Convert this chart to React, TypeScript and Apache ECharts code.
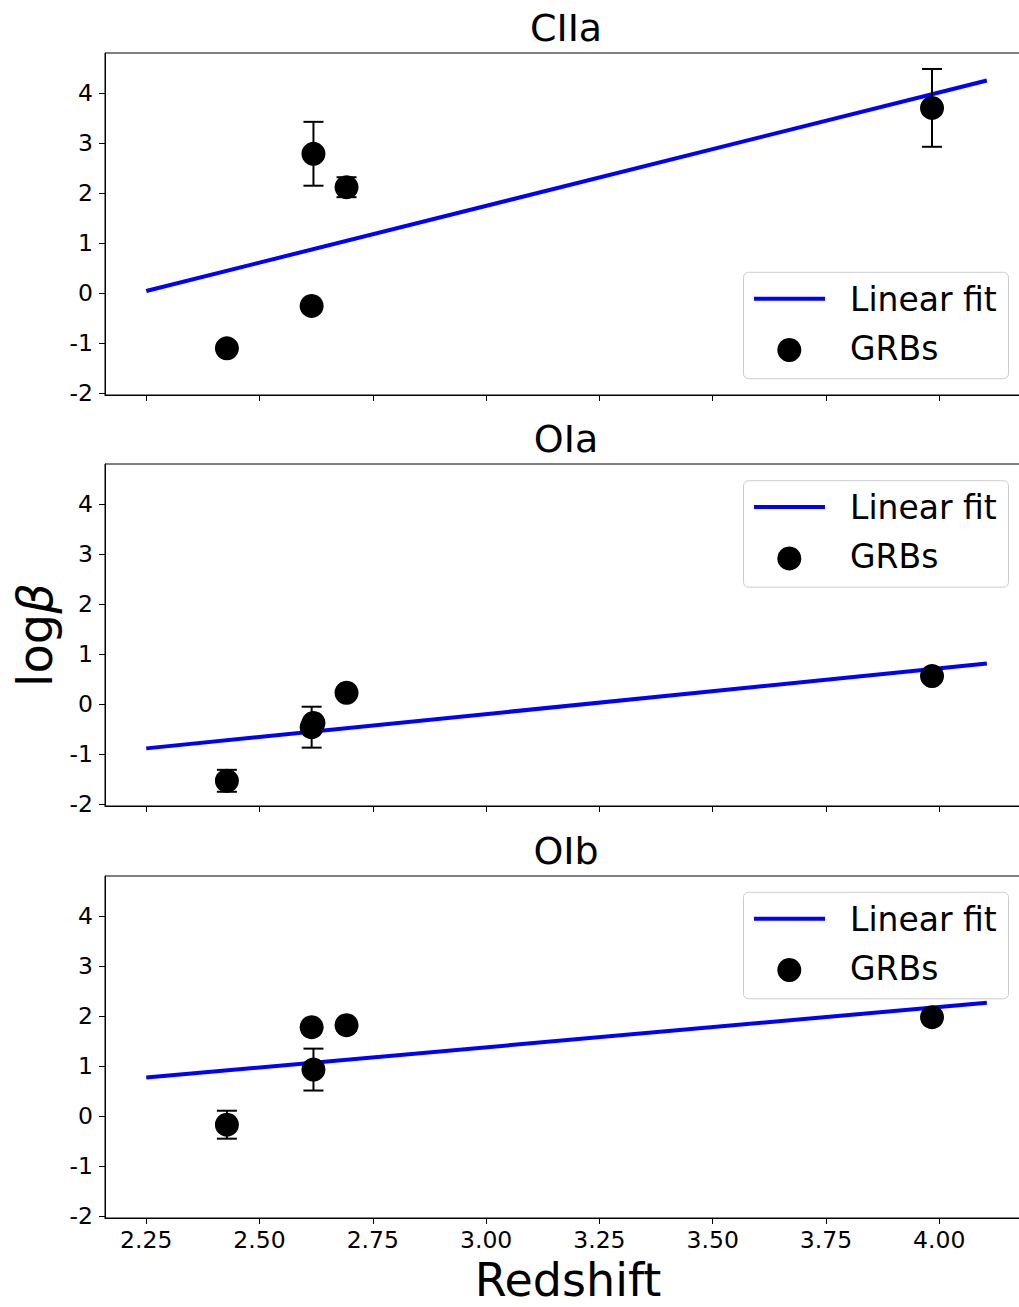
import React, { useEffect, useRef } from "react";
import * as echarts from "echarts";

// ---- data ----
const redshift = [2.428, 2.615, 2.619, 2.692, 3.984];
const panelNames = ["CIIa", "OIa", "OIb"];

const ciiaValues = [-1.11, -0.26, 2.79, 2.12, 3.71];
const ciiaErrors = [0, 0, 0.64, 0.2, 0.78];
const oiaValues = [-1.54, -0.465, -0.38, 0.225, 0.56];
const oiaErrors = [0.22, 0.41, 0, 0, 0];
const oibValues = [-0.175, 1.78, 0.93, 1.82, 1.98];
const oibErrors = [0.28, 0, 0.42, 0, 0];

const fitX = [2.25, 4.105];
const ciiaFit = [0.04, 4.26];
const oiaFit = [-0.89, 0.81];
const oibFit = [0.77, 2.27];

const xTicks = [2.25, 2.5, 2.75, 3.0, 3.25, 3.5, 3.75, 4.0];
const yTicks = [-2, -1, 0, 1, 2, 3, 4];

const panelValues = [ciiaValues, oiaValues, oibValues];
const panelErrors = [ciiaErrors, oiaErrors, oibErrors];
const panelFits = [ciiaFit, oiaFit, oibFit];

// ---- layout ----
const FONT = "DejaVu Sans";
const CHART_W = 1060;
const GRID_LEFT = 105;
const GRID_W = 924;
const GRID_H = 342;
const GRID_TOPS = [53, 464, 876];
const LEGEND_TOPS = [272.3, 480.7, 892.3];
const X_MIN = 2.159;
const X_MAX = 4.198;
const Y_MIN = -2.045;
const Y_MAX = 4.81;

function buildOption() {
  const grid: any[] = [];
  const xAxis: any[] = [];
  const yAxis: any[] = [];
  const series: any[] = [];
  const graphic: any[] = [];

  panelNames.forEach((name, i) => {
    grid.push({
      left: GRID_LEFT,
      top: GRID_TOPS[i],
      width: GRID_W,
      height: GRID_H,
      show: true,
      borderColor: "#000",
      borderWidth: 1,
      backgroundColor: "transparent",
    });
    xAxis.push({
      type: "value",
      gridIndex: i,
      min: X_MIN,
      max: X_MAX,
      splitLine: { show: false },
      axisLine: { show: true, onZero: false, lineStyle: { color: "#000", width: 1 } },
      axisTick: {
        show: true,
        inside: false,
        length: 6,
        customValues: xTicks,
        lineStyle: { color: "#000", width: 1 },
      },
      axisLabel: {
        show: i === 2,
        customValues: xTicks,
        formatter: (v: number) => v.toFixed(2),
        fontSize: 23.5,
        fontFamily: FONT,
        color: "#000",
        margin: 10,
      },
    });
    yAxis.push({
      type: "value",
      gridIndex: i,
      min: Y_MIN,
      max: Y_MAX,
      splitLine: { show: false },
      axisLine: { show: true, onZero: false, lineStyle: { color: "#000", width: 1 } },
      axisTick: {
        show: true,
        inside: false,
        length: 6,
        customValues: yTicks,
        lineStyle: { color: "#000", width: 1 },
      },
      axisLabel: {
        show: true,
        customValues: yTicks,
        formatter: (v: number) => String(v),
        fontSize: 23.5,
        fontFamily: FONT,
        color: "#000",
        margin: 12,
      },
    });

    const fit = panelFits[i];
    series.push({
      type: "line",
      name: "Linear fit",
      xAxisIndex: i,
      yAxisIndex: i,
      data: fitX.map((x, j) => [x, fit[j]]),
      symbol: "none",
      showSymbol: false,
      lineStyle: { color: "#0000ff", width: 4 },
      z: 2,
    });

    const vals = panelValues[i];
    const errs = panelErrors[i];
    series.push({
      type: "custom",
      xAxisIndex: i,
      yAxisIndex: i,
      data: redshift
        .map((x, j) => [x, vals[j], errs[j]])
        .filter((d) => d[2] > 0),
      encode: { x: 0, y: 1 },
      renderItem: (params: any, api: any) => {
        const x = api.value(0);
        const y = api.value(1);
        const e = api.value(2);
        const top = api.coord([x, y + e]);
        const bot = api.coord([x, y - e]);
        const st = { stroke: "#000", lineWidth: 2 };
        return {
          type: "group",
          children: [
            { type: "line", shape: { x1: top[0], y1: top[1], x2: bot[0], y2: bot[1] }, style: st },
            { type: "line", shape: { x1: top[0] - 10, y1: top[1], x2: top[0] + 10, y2: top[1] }, style: st },
            { type: "line", shape: { x1: bot[0] - 10, y1: bot[1], x2: bot[0] + 10, y2: bot[1] }, style: st },
          ],
        };
      },
      z: 3,
    });
    series.push({
      type: "scatter",
      name: "GRBs",
      xAxisIndex: i,
      yAxisIndex: i,
      data: redshift.map((x, j) => [x, vals[j]]),
      symbol: "circle",
      symbolSize: 24,
      itemStyle: { color: "#000", opacity: 1 },
      z: 4,
    });

    // title
    graphic.push({
      type: "text",
      x: 566,
      y: GRID_TOPS[i] - 25,
      style: {
        text: name,
        font: `38px "${FONT}"`,
        fill: "#000",
        align: "center",
        verticalAlign: "middle",
      },
    });

    // legend
    const lt = LEGEND_TOPS[i];
    graphic.push({
      type: "group",
      z: 100,
      children: [
        {
          type: "rect",
          shape: { x: 743.5, y: lt, width: 265, height: 106.5, r: 5 },
          style: { fill: "rgba(255,255,255,0.8)", stroke: "#cccccc", lineWidth: 1 },
        },
        {
          type: "line",
          shape: { x1: 754, y1: lt + 26.4, x2: 825, y2: lt + 26.4 },
          style: { stroke: "#0000ff", lineWidth: 4 },
        },
        {
          type: "circle",
          shape: { cx: 789.3, cy: lt + 77.7, r: 12 },
          style: { fill: "#000" },
        },
        {
          type: "text",
          x: 850,
          y: lt + 26.7,
          style: {
            text: "Linear fit",
            font: `33px "${FONT}"`,
            fill: "#000",
            align: "left",
            verticalAlign: "middle",
          },
        },
        {
          type: "text",
          x: 850,
          y: lt + 75.7,
          style: {
            text: "GRBs",
            font: `33px "${FONT}"`,
            fill: "#000",
            align: "left",
            verticalAlign: "middle",
          },
        },
      ],
    });
  });

  // axis titles
  graphic.push({
    type: "text",
    x: 568,
    y: 1280,
    style: {
      text: "Redshift",
      font: `46px "${FONT}"`,
      fill: "#000",
      align: "center",
      verticalAlign: "middle",
    },
  });
  graphic.push({
    type: "text",
    x: 35,
    y: 635,
    rotation: Math.PI / 2,
    style: {
      text: "{a|log}{b|β}",
      align: "center",
      verticalAlign: "middle",
      rich: {
        a: { fontSize: 48, fontFamily: FONT, fill: "#000", color: "#000" },
        b: { fontSize: 48, fontFamily: FONT, fontStyle: "italic", fill: "#000", color: "#000" },
      },
    },
  });

  return {
    animation: false,
    backgroundColor: "#fff",
    grid,
    xAxis,
    yAxis,
    series,
    graphic,
  };
}

export default function App() {
  const ref = useRef<HTMLDivElement>(null);
  useEffect(() => {
    if (!ref.current) return;
    const chart = echarts.init(ref.current, null, { renderer: "svg" });
    chart.setOption(buildOption() as any);
    return () => chart.dispose();
  }, []);
  return (
    <div
      style={{
        position: "absolute",
        left: 0,
        top: 0,
        width: 1019,
        height: 1307,
        overflow: "hidden",
        background: "#fff",
      }}
    >
      <div ref={ref} style={{ width: CHART_W, height: 1307 }} />
    </div>
  );
}
